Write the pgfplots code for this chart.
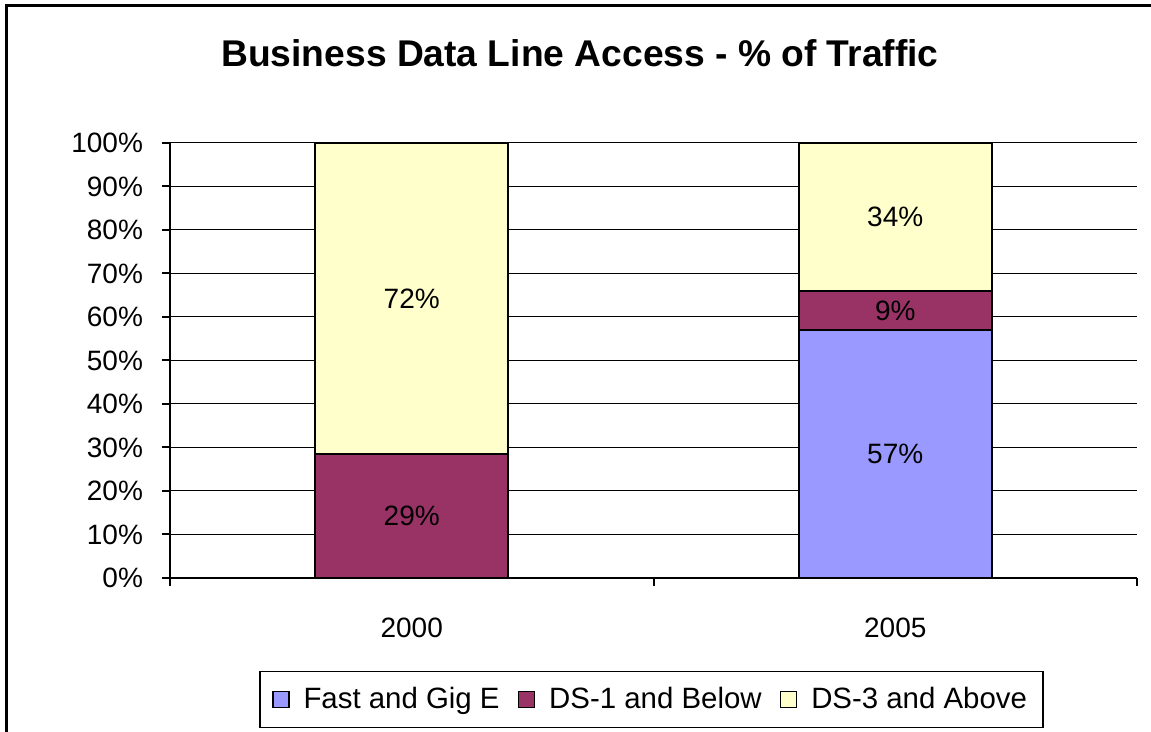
\documentclass[border=0pt]{standalone}
\usepackage{pgfplots}
\pgfplotsset{compat=1.18}
\usepackage{fontspec}
\setmainfont{Liberation Sans}
\definecolor{cFast}{HTML}{9999FF}
\definecolor{cDSone}{HTML}{993366}
\definecolor{cDSthree}{HTML}{FFFFCC}
\begin{document}
\begin{tikzpicture}
\path[use as bounding box] (0pt,0pt) rectangle (575.5pt,366pt);
\draw[line width=1.5pt] (3pt,-20pt) -- (3pt,363pt) -- (600pt,363pt);
\node[font=\fontsize{18.6}{21}\selectfont\bfseries] at (290pt,339.5pt) {Business Data Line Access - \% of Traffic};
\begin{axis}[
  at={(85pt,77pt)}, anchor=south west,
  scale only axis, width=483.5pt, height=217.5pt,
  font=\fontsize{14}{16}\selectfont,
  /pgf/number format/assume math mode=true,
  ybar stacked, bar width=0.4,
  xmin=-0.5, xmax=1.5, ymin=0, ymax=100,
  axis lines=left, axis line style={-, line width=1pt},
  tick align=outside,
  ytick={0,10,...,100},
  yticklabels={0\%,10\%,20\%,30\%,40\%,50\%,60\%,70\%,80\%,90\%,100\%},
  yticklabel style={xshift=-6pt},
  major tick length=4pt,
  tick style={line width=1pt, black},
  xtick={-0.5,0.5,1.5}, xticklabels={},
  extra x ticks={0,1}, extra x tick labels={2000,2005},
  extra x tick style={major tick length=0pt, xticklabel style={anchor=center, yshift=-25pt}},
  ymajorgrids, grid style={black, line width=0.5pt},
  legend style={at={(0.4979,-0.2793)}, anchor=center, legend columns=-1,
     draw=black, line width=0.8pt, font=\fontsize{14.7}{17}\selectfont,
     /tikz/every even column/.append style={column sep=7pt},
     /tikz/every odd column/.append style={column sep=5pt},
     inner xsep=6pt, inner ysep=6pt},
  legend image code/.code={\draw[#1, draw=black, line width=0.8pt] (0pt,-4pt) rectangle (8pt,4pt);},
]
\addplot[fill=cFast, draw=black, line width=1pt] coordinates {(0,0) (1,57)};
\addplot[fill=cDSone, draw=black, line width=1pt] coordinates {(0,28.5) (1,9)};
\addplot[fill=cDSthree, draw=black, line width=1pt] coordinates {(0,71.5) (1,34)};
\legend{Fast and Gig E, DS-1 and Below, DS-3 and Above}
\end{axis}
\begin{axis}[
  at={(85pt,77pt)}, anchor=south west,
  scale only axis, width=483.5pt, height=217.5pt,
  xmin=-0.5, xmax=1.5, ymin=0, ymax=100,
  hide axis,
  nodes near coords, point meta=explicit symbolic,
  every node near coord/.append style={anchor=center, font=\fontsize{14}{16}\selectfont},
]
\addplot[only marks, mark=none] table[meta=label] {
x y label
0 14.25 29\%
0 64.25 72\%
1 28.5 57\%
1 61.5 9\%
1 83 34\%
};
\end{axis}
\end{tikzpicture}
\end{document}
